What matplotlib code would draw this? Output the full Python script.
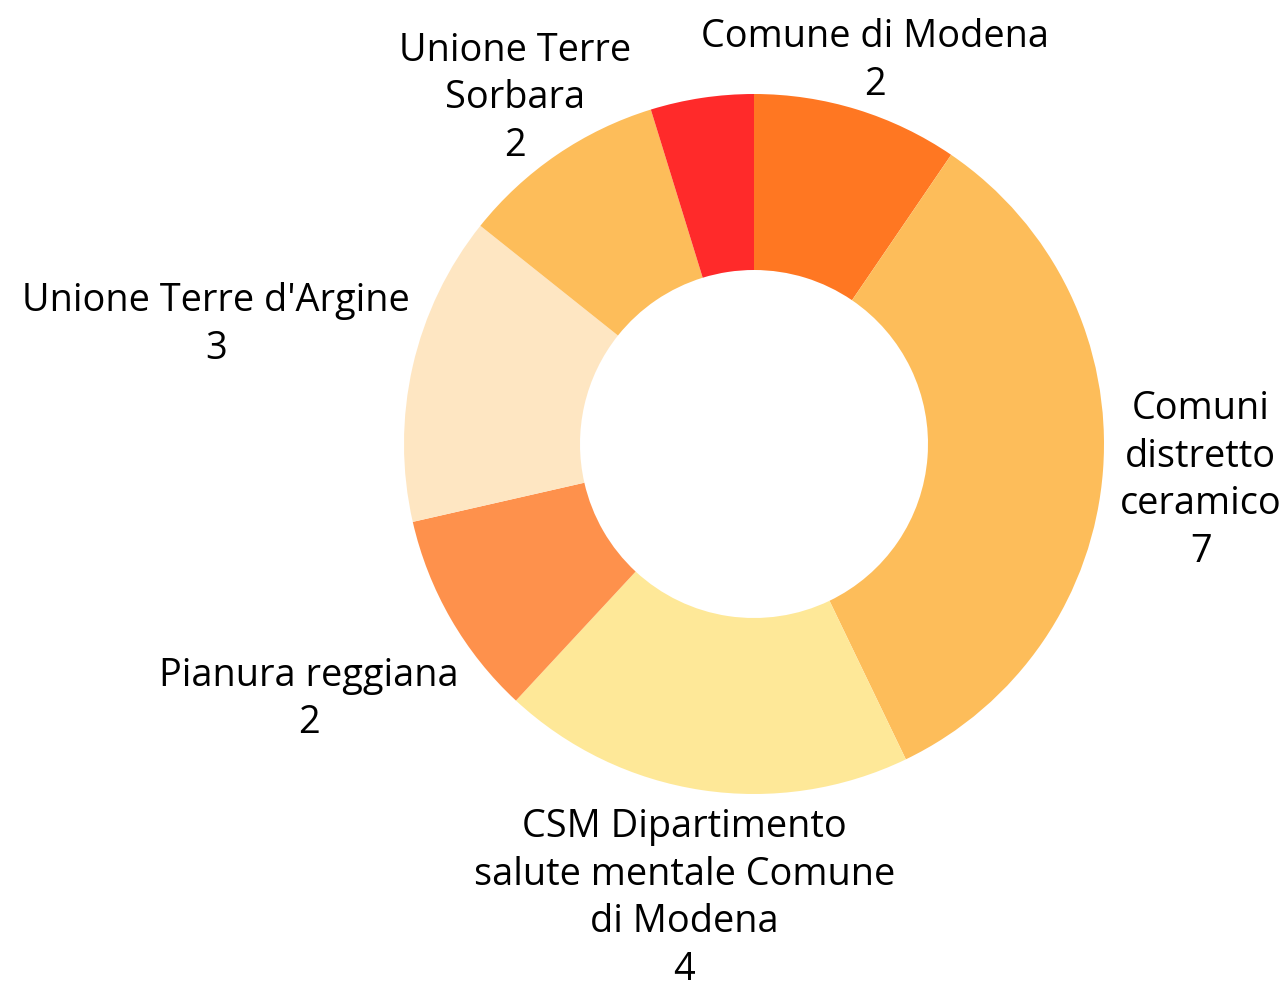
import numpy as np
import matplotlib.pyplot as plt

# slices, clockwise from 12 o'clock
labels = ["Comune di Modena", "Comuni\ndistretto\nceramico",
          "CSM Dipartimento\nsalute mentale Comune\ndi Modena",
          "Pianura reggiana", "Unione Terre d'Argine", "Unione Terre\nSorbara", ""]
values = [2, 7, 4, 2, 3, 2, 1]
colors = ["#FF7722", "#FDBD5A", "#FEE898", "#FE914C", "#FEE6C2", "#FDBD5A", "#FF2A2A"]

W, H = 1284, 983
cx, cy = 754, H - 444
R = 350
hole = 174

# small shifts of the labels (pixels), like the original's label scooting
nudge = [(-36, 0), (9, -3), (15, -11), (-5, -55), (0, 30), (28, -5), (0, 0)]

plt.rcParams['font.family'] = ['Open Sans', 'DejaVu Sans']

fig = plt.figure(figsize=(W / 100, H / 100), dpi=100)
ax = fig.add_axes([0, 0, 1, 1])

ax.pie(values, colors=colors, radius=R, center=(cx, cy), startangle=90,
       counterclock=False, wedgeprops=dict(width=R - hole, linewidth=0), frame=True)
ax.set_xlim(0, W)
ax.set_ylim(0, H)
ax.axis('off')

# labels outside, pushed off the ring along the mid-angle
total = sum(values)
cum = np.cumsum([0] + values)
texts = []
for i, (lab, v) in enumerate(zip(labels, values)):
    if not lab:
        continue
    mid = np.deg2rad((cum[i] + v / 2) / total * 360)
    s, c = np.sin(mid), np.cos(mid)
    px, py = cx + (R + 8) * s + nudge[i][0], cy + (R + 8) * c + nudge[i][1]
    t = ax.text(px, py, lab + "\n" + str(v), ha='center', va='center',
                fontsize=27.3, linespacing=1.33, multialignment='center', color='black')
    texts.append((t, px, py, s, c))

fig.canvas.draw()
r = fig.canvas.get_renderer()
for t, px, py, s, c in texts:
    bb = t.get_window_extent(r)
    t.set_position((px + bb.width / 2 * s, py + bb.height / 2 * c))

fig.savefig("out.png", dpi=100)
